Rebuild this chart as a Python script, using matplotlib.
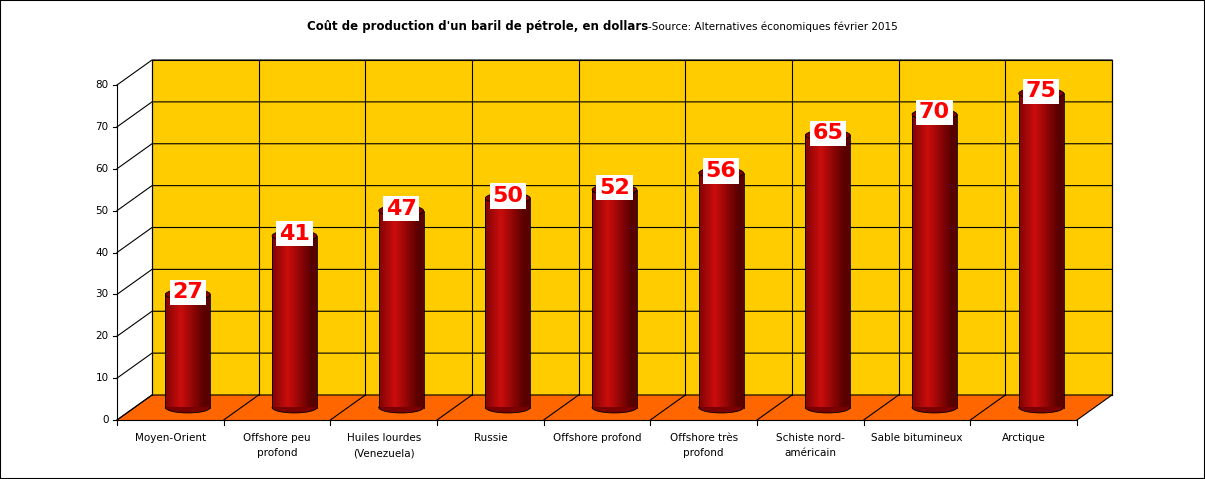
import numpy as np
import matplotlib.pyplot as plt
from matplotlib.patches import Polygon, Ellipse, Rectangle, PathPatch
from matplotlib.path import Path

categories = ["Moyen-Orient", "Offshore peu\nprofond", "Huiles lourdes\n(Venezuela)", "Russie",
              "Offshore profond", "Offshore très\nprofond", "Schiste nord-\naméricain",
              "Sable bitumineux", "Arctique"]
values = [27, 41, 47, 50, 52, 56, 65, 70, 75]
yticks = [0, 10, 20, 30, 40, 50, 60, 70, 80]

W, H = 1205, 479
fig = plt.figure(figsize=(W / 100, H / 100), dpi=100)
ax = fig.add_axes([117 / W, (H - 420) / H, 960 / W, 335 / H])
ax.set_xlim(0, 9)
ax.set_ylim(0, 80)
ax.axis("off")

DX, DY = 35 / 106.67, 25 / 4.1875   # depth offset in data units
n = len(categories)

# back wall and floor
ax.add_patch(Polygon([(DX, DY), (n + DX, DY), (n + DX, 80 + DY), (DX, 80 + DY)],
                     closed=True, fc="#FFCC00", ec="black", lw=0.8, clip_on=False, zorder=1))
ax.add_patch(Polygon([(0, 0), (n, 0), (n + DX, DY), (DX, DY)],
                     closed=True, fc="#FF6600", ec="none", clip_on=False, zorder=1))
for v in yticks:
    ax.plot([0, DX, n + DX], [v, v + DY, v + DY], color="black", lw=0.8, clip_on=False, zorder=2)
for k in range(n + 1):
    ax.plot([k + DX, k + DX], [DY, 80 + DY], color="black", lw=0.8, clip_on=False, zorder=2)
    ax.plot([k, k + DX], [0, DY], color="black", lw=0.8, clip_on=False, zorder=2)
    ax.plot([k, k], [0, -1.2], color="black", lw=0.8, clip_on=False, zorder=2)
# axes lines
ax.plot([0, 0], [0, 80], color="black", lw=0.8, clip_on=False, zorder=3)
ax.plot([0, n], [0, 0], color="black", lw=0.8, clip_on=False, zorder=3)
for v in yticks:
    ax.plot([-0.04, 0], [v, v], color="black", lw=0.8, clip_on=False, zorder=3)
    ax.text(-0.08, v, str(v), ha="right", va="center", fontsize=7.5)

# cylinders
grad = np.linspace(0, 1, 64)
shade = np.clip(1 - np.abs(grad - 0.35) * 1.9, 0, 1)
cmap_cols = np.zeros((1, 64, 3))
cmap_cols[0, :, 0] = 0.35 + 0.45 * shade
cmap_cols[0, :, 1] = 0.0 + 0.05 * shade
cmap_cols[0, :, 2] = 0.0 + 0.05 * shade
bw = 0.42
eh = 2.6
for i, v in enumerate(values):
    cx = i + 0.5 + DX / 2
    base = DY / 2
    top = v + DY / 2
    verts = [(cx - bw / 2, base), (cx - bw / 2, top), (cx + bw / 2, top), (cx + bw / 2, base)]
    body = Ellipse((cx, base), bw, eh, fc="#7a0000", ec="black", lw=0.6, zorder=4, clip_on=False)
    ax.add_patch(body)
    rect = Rectangle((cx - bw / 2, base), bw, top - base, fc="none", ec="none", zorder=5, clip_on=False)
    ax.add_patch(rect)
    im = ax.imshow(cmap_cols, extent=(cx - bw / 2, cx + bw / 2, base, top), aspect="auto",
                   zorder=5, clip_on=False)
    im.set_clip_path(rect)
    ax.plot([cx - bw / 2, cx - bw / 2], [base, top], color="black", lw=0.6, zorder=6, clip_on=False)
    ax.plot([cx + bw / 2, cx + bw / 2], [base, top], color="black", lw=0.6, zorder=6, clip_on=False)
    ax.add_patch(Ellipse((cx, top), bw, eh, fc="#8a0000", ec="black", lw=0.6, zorder=7, clip_on=False))
    ax.text(cx, top + 0.5, str(v), ha="center", va="center", fontsize=16, fontweight="bold",
            color="#FF0000", zorder=8,
            bbox=dict(boxstyle="square,pad=0.12", fc="white", ec="none"))

for i, c in enumerate(categories):
    ax.text(i + 0.5, -3.2, c, ha="center", va="top", fontsize=7.5, linespacing=1.6)

fig.text(0.538, 0.945, "Coût de production d'un baril de pétrole, en dollars", ha="right",
         va="center", fontsize=8.5, fontweight="bold")
fig.text(0.538, 0.945, "-Source: Alternatives économiques février 2015", ha="left",
         va="center", fontsize=7.5)
fig.add_artist(Rectangle((0, 0), 1, 1, transform=fig.transFigure, fill=False, ec="black", lw=1.5))

fig.savefig("out.png", dpi=100)
